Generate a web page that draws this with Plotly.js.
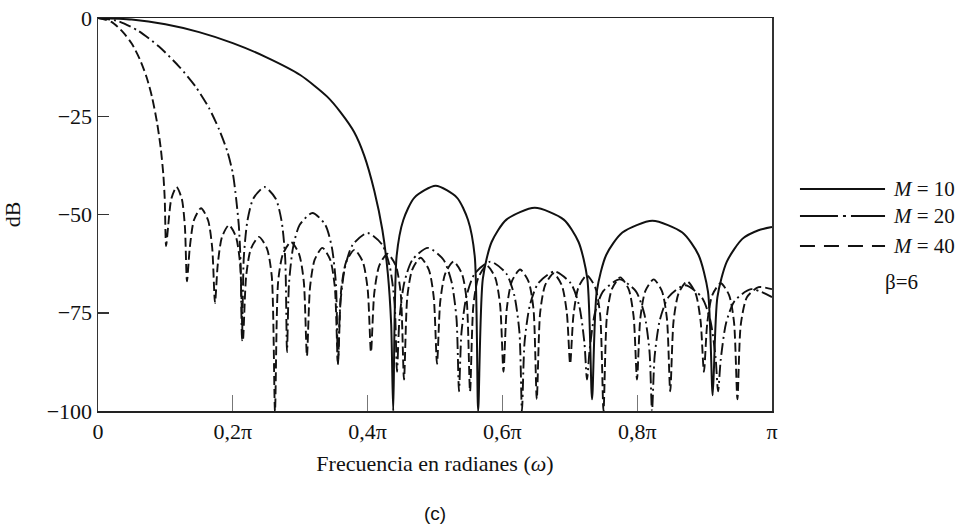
<!DOCTYPE html>
<html>
<head>
<meta charset="utf-8">
<script src="https://cdn.plot.ly/plotly-3.0.1.min.js"></script>
<style>html,body{margin:0;padding:0;background:#fff;}#chart{width:967px;height:528px;}</style>
</head>
<body>
<div id="chart"></div>
<script>
// Frequency in units of pi (omega/pi) and magnitude in dB
const freq10 = [0, 0.05, 0.1, 0.15, 0.2, 0.25, 0.3, 0.34, 0.36, 0.38, 0.395, 0.41, 0.422, 0.43, 0.435, 0.438,
  0.443, 0.453, 0.4695, 0.501, 0.5325, 0.549, 0.559, 0.564,
  0.571, 0.584, 0.606, 0.648, 0.691, 0.713, 0.726, 0.733,
  0.740, 0.754, 0.778, 0.8225, 0.867, 0.891, 0.905, 0.912,
  0.919, 0.933, 0.956, 0.98, 1.0];
const mag10 = [0, -0.4, -1.6, -3.6, -6.4, -10, -14.5, -20, -24, -29, -35, -44, -54, -65, -78, -100,
  -60.7, -51.4, -45.7, -42.7, -45.7, -51.4, -60.7, -100,
  -66.3, -57, -51.3, -48.3, -51.3, -57, -66.3, -97,
  -69.6, -60.3, -54.6, -51.6, -54.6, -60.3, -69.6, -96,
  -71, -62, -56.2, -54, -53.2];

const freq20 = [0, 0.03, 0.06, 0.09, 0.12, 0.145, 0.165, 0.18, 0.192, 0.2, 0.205, 0.209, 0.2115, 0.2136,
  0.2163, 0.2216, 0.2303, 0.247, 0.2637, 0.2724, 0.2777, 0.2804,
  0.2834, 0.2895, 0.2993, 0.3182, 0.3371, 0.3469, 0.353, 0.356,
  0.3595, 0.3665, 0.3779, 0.3998, 0.4217, 0.4331, 0.4401, 0.4436,
  0.4473, 0.4546, 0.4666, 0.4896, 0.5126, 0.5246, 0.5319, 0.5356,
  0.5393, 0.5468, 0.559, 0.5823, 0.6057, 0.6178, 0.6253, 0.629,
  0.6329, 0.6406, 0.6531, 0.6773, 0.7014, 0.7139, 0.7216, 0.7255,
  0.7294, 0.7371, 0.7496, 0.7738, 0.7979, 0.8104, 0.8181, 0.822,
  0.8259, 0.8338, 0.8465, 0.871, 0.8955, 0.9082, 0.9161, 0.92,
  0.9239, 0.9318, 0.9445, 0.969, 1.0];
const mag20 = [0, -0.8, -3.3, -7.2, -12.3, -17.5, -23, -28.5, -34, -39.5, -46, -53, -62, -82,
  -61, -51.7, -46, -43, -46, -51.7, -61, -85,
  -67.6, -58.3, -52.6, -49.6, -52.6, -58.3, -67.6, -88,
  -72.7, -63.4, -57.7, -54.7, -57.7, -63.4, -72.7, -90,
  -76.5, -67.2, -61.5, -58.5, -61.5, -67.2, -76.5, -95,
  -80, -70.7, -65, -62, -65, -70.7, -80, -100,
  -82.5, -73.2, -67.5, -64.5, -67.5, -73.2, -82.5, -92,
  -84.5, -75.2, -69.5, -66.5, -69.5, -75.2, -84.5, -100,
  -86, -76.7, -71, -68, -71, -76.7, -86, -95,
  -87, -77.7, -72, -69, -71];

const freq40 = [0, 0.02, 0.037, 0.05, 0.062, 0.072, 0.08, 0.0875, 0.093, 0.097, 0.099, 0.101,
  0.1041, 0.1088, 0.1165, 0.1243, 0.1289, 0.132,
  0.1362, 0.1424, 0.1528, 0.1632, 0.1694, 0.1736,
  0.1777, 0.184, 0.1943, 0.2047, 0.2109, 0.215,
  0.2198, 0.2269, 0.2388, 0.2507, 0.2578, 0.2626,
  0.2673, 0.2745, 0.2863, 0.2982, 0.3053, 0.31,
  0.3146, 0.3215, 0.333, 0.3445, 0.3514, 0.356,
  0.3609, 0.3683, 0.3805, 0.3928, 0.4001, 0.405,
  0.4099, 0.4173, 0.4295, 0.4418, 0.4491, 0.454,
  0.4589, 0.4663, 0.4785, 0.4908, 0.4981, 0.503,
  0.5079, 0.5153, 0.5275, 0.5398, 0.5471, 0.552,
  0.557, 0.5644, 0.5768, 0.5892, 0.5966, 0.6016,
  0.6065, 0.614, 0.6263, 0.6387, 0.6461, 0.651,
  0.656, 0.6634, 0.6758, 0.6881, 0.6956, 0.7005,
  0.7055, 0.7129, 0.7253, 0.7376, 0.745, 0.75,
  0.755, 0.7624, 0.7749, 0.7873, 0.7947, 0.7997,
  0.8046, 0.812, 0.8244, 0.8367, 0.8441, 0.849,
  0.854, 0.8615, 0.874, 0.8865, 0.894, 0.899,
  0.904, 0.9114, 0.9239, 0.9363, 0.9437, 0.9487,
  0.9537, 0.963, 0.98, 1.0];
const mag40 = [0, -1, -3.6, -6.5, -10.5, -15, -20, -26.5, -33, -40, -46, -58,
  -53, -46, -43, -46, -53, -67,
  -58.4, -51.4, -48.4, -51.4, -58.4, -72.5,
  -62.7, -55.7, -52.7, -55.7, -62.7, -82,
  -65.7, -58.7, -55.7, -58.7, -65.7, -100,
  -67, -60, -57, -60, -67, -86,
  -68.5, -61.5, -58.5, -61.5, -68.5, -88,
  -69, -62, -59, -62, -69, -85,
  -70, -63, -60, -63, -70, -92,
  -71, -64, -61, -64, -71, -88,
  -72, -65, -62, -65, -72, -95,
  -73, -66, -63, -66, -73, -90,
  -74, -67, -64, -67, -74, -97,
  -75, -68, -65, -68, -75, -88,
  -75.5, -68.5, -65.5, -68.5, -75.5, -100,
  -76, -69, -66, -69, -76, -92,
  -76.5, -69.5, -66.5, -69.5, -76.5, -95,
  -77, -70, -67, -70, -77, -90,
  -77.5, -70.5, -67.5, -70.5, -77.5, -97,
  -78, -71, -68.5, -69];

const seriesNames = ['M = 10', 'M = 20', 'M = 40'];
const xTickVals = [0, 0.2, 0.4, 0.6, 0.8, 1];
const xTickText = ['0', '0,2π', '0,4π', '0,6π', '0,8π', 'π'];
const yTickVals = [0, -25, -50, -75, -100];
const yTickText = ['0', '−25', '−50', '−75', '−100'];
const xTitle = 'Frecuencia en radianes (<i>ω</i>)';
const yTitle = 'dB';
const noteText = 'β=6';
const caption = '(c)';

const FONT = '"Liberation Serif", serif';
const ink = '#111';
const dashes = ['solid', '12px,4px,2px,4px', '9px,4px'];
const legDashes = ['solid', '38px,5px,3px,5px', '15px,9px'];

const traces = [
  {x: freq10, y: mag10, name: seriesNames[0]},
  {x: freq20, y: mag20, name: seriesNames[1]},
  {x: freq40, y: mag40, name: seriesNames[2]}
].map((t, i) => Object.assign(t, {
  type: 'scatter', mode: 'lines', showlegend: false, hoverinfo: 'x+y',
  line: {color: ink, width: i === 0 ? 2 : 1.9, dash: dashes[i], shape: 'spline', smoothing: 0.7}
}));

// hand-made legend at the right of the plot (paper coordinates)
const legY = [0.565, 0.496, 0.42];
const shapes = legY.map((yy, i) => ({
  type: 'line', xref: 'paper', yref: 'paper', x0: 1.0415, x1: 1.1677, y0: yy, y1: yy,
  line: {color: ink, width: 2, dash: legDashes[i]}
}));
const annotations = legY.map((yy, i) => ({
  xref: 'paper', yref: 'paper', x: 1.177, y: yy, xanchor: 'left', yanchor: 'middle',
  text: seriesNames[i].replace('M', '<i>M</i>'), showarrow: false,
  font: {family: FONT, size: 21, color: ink}
}));
annotations.push({
  xref: 'paper', yref: 'paper', x: 1.192, y: 0.328, xanchor: 'center', yanchor: 'middle',
  text: noteText, showarrow: false, font: {family: FONT, size: 21, color: ink}
});
annotations.push({
  xref: 'paper', yref: 'paper', x: 0.5, y: -0.26, xanchor: 'center', yanchor: 'middle',
  text: caption, showarrow: false, font: {family: '"Liberation Sans", sans-serif', size: 19, color: ink}
});

const layout = {
  width: 967, height: 528,
  margin: {l: 98, r: 195, t: 18, b: 117},
  paper_bgcolor: '#fff', plot_bgcolor: '#fff',
  font: {family: FONT, size: 22, color: ink},
  showlegend: false,
  xaxis: {
    range: [0, 1], tickvals: xTickVals, ticktext: xTickText,
    ticks: 'inside', ticklen: 16, tickwidth: 1, tickcolor: '#777',
    showline: true, mirror: true, linecolor: '#222', linewidth: 1.5,
    showgrid: false, zeroline: false, automargin: false,
    tickfont: {family: FONT, size: 22, color: ink},
    title: {text: xTitle, font: {family: FONT, size: 22, color: ink}, standoff: 12}
  },
  yaxis: {
    range: [-100, 0], tickvals: yTickVals, ticktext: yTickText,
    ticks: 'inside', ticklen: 11, tickwidth: 1.5, tickcolor: '#333',
    showline: true, mirror: true, linecolor: '#333', linewidth: 1.5,
    showgrid: false, zeroline: false, automargin: false,
    tickfont: {family: FONT, size: 22, color: ink},
    title: {text: yTitle, font: {family: FONT, size: 22, color: ink}, standoff: 28}
  },
  shapes: shapes,
  annotations: annotations
};

Plotly.newPlot('chart', traces, layout, {displayModeBar: false, staticPlot: true});
</script>
</body>
</html>
